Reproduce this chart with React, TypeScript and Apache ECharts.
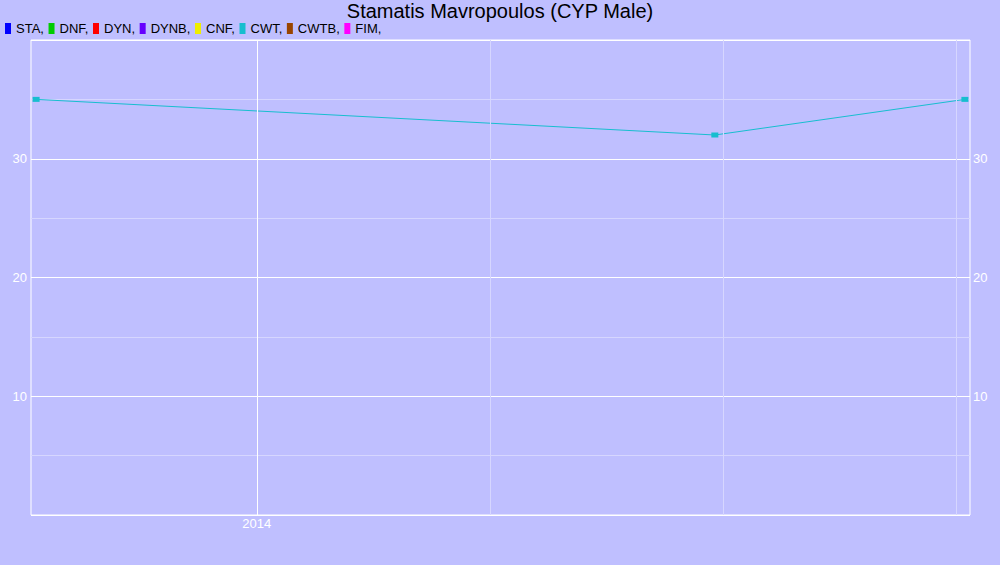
import React, { useEffect, useRef } from "react";
import * as echarts from "echarts";

const title = "Stamatis Mavropoulos (CYP Male)";
const disciplines = ["STA", "DNF", "DYN", "DYNB", "CNF", "CWT", "CWTB", "FIM"];
const disciplineColors = ["#0000FF", "#00CC00", "#FF0000", "#6600FF", "#EEEE00", "#17BECF", "#994400", "#FF00FF"];
const cwtDates = ["2013-10-06T12:00", "2014-06-29T12:00", "2014-10-05T12:00"];
const cwtDepths = [35, 32, 35];
const xMinDate = "2013-10-04T12:00";
const xMaxDate = "2014-10-07T12:00";
const yearLabel = "2014";
const yTicks = [10, 20, 30];

const ts = (d: string) => new Date(d + (d.length > 10 ? ":00Z" : "T00:00:00Z")).getTime();
const FONT = "Liberation Sans, Arial, sans-serif";

export default function App() {
  const ref = useRef<HTMLDivElement>(null);
  useEffect(() => {
    if (!ref.current) return;
    const chart = echarts.init(ref.current, undefined, { renderer: "svg" });
    const yearStart = ts(yearLabel + "-01-01");
    const quarter = (365.25 / 4) * 86400000;
    const gridLines = [0, 1, 2, 3].map((k) => ({
      xAxis: yearStart + k * quarter,
      lineStyle: { color: k === 0 ? "#FFFFFF" : "#D6D6FF", width: 1, type: "solid" },
      label: k === 0
        ? { show: true, position: "start", formatter: yearLabel, color: "#FFFFFF", fontSize: 13, fontFamily: FONT, distance: 2 }
        : { show: false },
    }));
    const series: any[] = disciplines.map((name, i) => {
      const s: any = {
        name,
        type: "line",
        color: disciplineColors[i],
        data: [],
        symbol: "rect",
        symbolSize: [7, 5],
        lineStyle: { width: 1 },
      };
      if (name === "CWT") {
        s.data = cwtDates.map((d, j) => [ts(d), cwtDepths[j]]);
        s.markLine = { silent: true, symbol: "none", animation: false, data: gridLines };
      }
      return s;
    });
    const yLabel = { color: "#FFFFFF", fontSize: 13, fontFamily: FONT, showMinLabel: false, showMaxLabel: false };
    chart.setOption({
      animation: false,
      backgroundColor: "#BFBFFF",
      title: {
        text: title,
        left: "center",
        top: 1,
        padding: 0,
        textStyle: { color: "#000000", fontSize: 20, lineHeight: 20, fontWeight: "normal", fontFamily: FONT },
      },
      legend: {
        data: disciplines,
        left: 5,
        top: 22,
        icon: "rect",
        itemWidth: 6,
        itemHeight: 11,
        itemGap: 4.6,
        padding: 0,
        formatter: (n: string) => n + ",",
        textStyle: { color: "#000000", fontSize: 13, fontFamily: FONT },
      },
      grid: {
        left: 31,
        right: 30,
        top: 40,
        bottom: 50,
        show: true,
        borderColor: "#FFFFFF",
        borderWidth: 1,
        backgroundColor: "transparent",
      },
      xAxis: {
        type: "time",
        min: ts(xMinDate),
        max: ts(xMaxDate),
        axisLabel: { show: false },
        axisTick: { show: false },
        axisLine: { show: false },
        splitLine: { show: false },
      },
      yAxis: [
        {
          type: "value",
          min: 0,
          max: 40,
          interval: yTicks[1] - yTicks[0],
          position: "left",
          axisLabel: { ...yLabel, margin: 4 },
          axisTick: { show: false },
          axisLine: { show: false },
          splitLine: { show: true, lineStyle: { color: "#FFFFFF", width: 1 } },
          minorTick: { show: false, splitNumber: 2 },
          minorSplitLine: { show: true, lineStyle: { color: "#D6D6FF", width: 1 } },
        },
        {
          type: "value",
          min: 0,
          max: 40,
          interval: yTicks[1] - yTicks[0],
          position: "right",
          axisLabel: { ...yLabel, margin: 3 },
          axisTick: { show: false },
          axisLine: { show: false },
          splitLine: { show: false },
        },
      ],
      series,
    });
    return () => chart.dispose();
  }, []);
  return <div ref={ref} style={{ width: 1000, height: 565, position: "absolute", left: 0, top: 0 }} />;
}
